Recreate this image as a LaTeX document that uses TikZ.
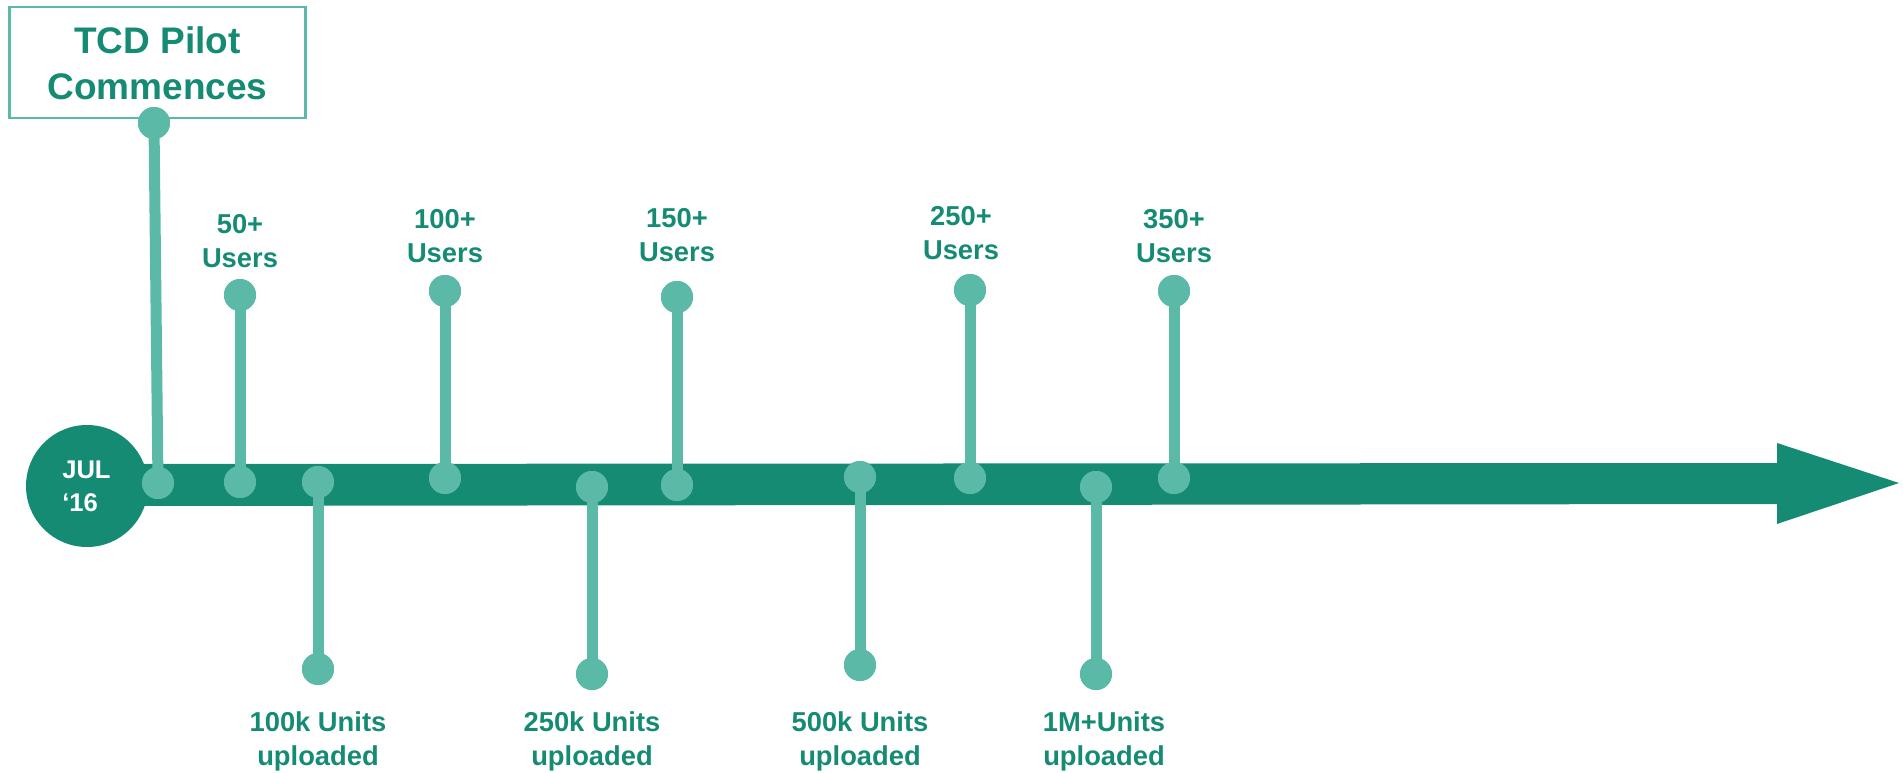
\documentclass[tikz,border=0pt]{standalone}
\usepackage{fontspec}
\setmainfont{Liberation Sans}
\definecolor{dteal}{RGB}{21,139,116}
\definecolor{lteal}{RGB}{91,185,168}
\begin{document}
\begin{tikzpicture}[x=0.75pt,y=-0.75pt,
  dot/.style={circle,fill=lteal,inner sep=0pt,minimum size=24pt},
  stem/.style={draw=lteal,line width=8.25pt},
  lbl/.style={text=dteal,align=center,inner sep=0pt,font={\fontsize{20.5}{25.5}\selectfont\bfseries}}]
\useasboundingbox (0,0) rectangle (1903,773);
% axis
\fill[dteal] (110,464) -- (1777,463) -- (1777,443) -- (1899,483) -- (1777,524) -- (1777,504) -- (110,506) -- cycle;
\node[circle,fill=dteal,minimum size=91.5pt,inner sep=0pt] (jul) at (87,486) {};
\node[anchor=west,text=white,align=left,inner sep=0pt,font={\fontsize{19.2}{24.75}\selectfont\bfseries}] (jult) at (62,486) {JUL\\‘16};
% pilot box
\node[draw=lteal,line width=1.8pt,minimum width=222pt,minimum height=83pt,inner sep=0pt] (box) at (157.5,62.5) {};
\node[lbl,font={\fontsize{27.75}{34.5}\selectfont\bfseries}] (boxt) at (157.5,63) {TCD Pilot\\Commences};
% dots
\node[dot] (p0) at (158,483) {};
\node[dot] (p1) at (154,123) {};
\node[dot] (a1) at (240,482) {};
\node[dot] (t1) at (240,295) {};
\node[dot] (a2) at (318,482) {};
\node[dot] (b2) at (318,669) {};
\node[dot] (a3) at (445,478) {};
\node[dot] (t3) at (445,291) {};
\node[dot] (a4) at (592,487) {};
\node[dot] (b4) at (592,674) {};
\node[dot] (a5) at (677,485) {};
\node[dot] (t5) at (677,297) {};
\node[dot] (a6) at (860,477) {};
\node[dot] (b6) at (860,665) {};
\node[dot] (a7) at (970,478) {};
\node[dot] (t7) at (970,290) {};
\node[dot] (a8) at (1096,487) {};
\node[dot] (b8) at (1096,674) {};
\node[dot] (a9) at (1174,478) {};
\node[dot] (t9) at (1174,291) {};
% stems
\foreach \a/\b in {p0/p1,a1/t1,a2/b2,a3/t3,a4/b4,a5/t5,a6/b6,a7/t7,a8/b8,a9/t9}{
  \draw[stem] (\a.center) -- (\b.center);
}
\foreach \n in {p0,p1,a1,t1,a2,b2,a3,t3,a4,b4,a5,t5,a6,b6,a7,t7,a8,b8,a9,t9}{
  \fill[lteal] (\n.center) circle (12pt);
}
% labels
\node[lbl] (l1) at (240,241) {50+\\Users};
\node[lbl] (l3) at (445,236) {100+\\Users};
\node[lbl] (l5) at (677,235) {150+\\Users};
\node[lbl] (l7) at (961,233) {250+\\Users};
\node[lbl] (l9) at (1174,236) {350+\\Users};
\node[lbl] (l2) at (318,741) {100k Units\\uploaded};
\node[lbl] (l4) at (592,741) {250k Units\\uploaded};
\node[lbl] (l6) at (860,741) {500k Units\\uploaded};
\node[lbl] (l8) at (1104,741) {1M+Units\\uploaded};
\end{tikzpicture}
\end{document}
